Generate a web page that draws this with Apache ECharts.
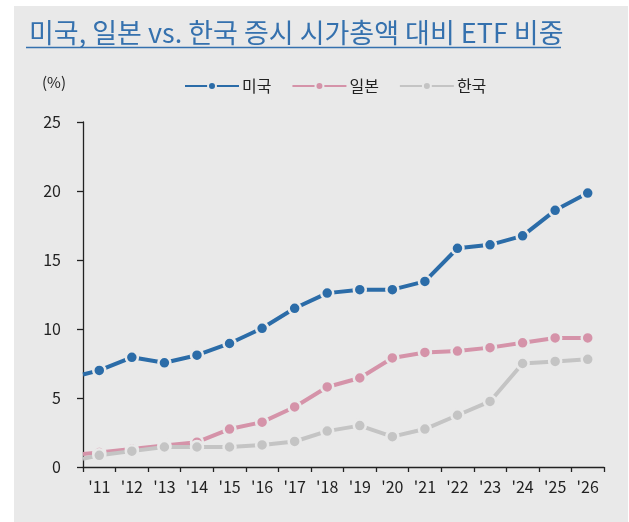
<!DOCTYPE html>
<html>
<head>
<meta charset="utf-8">
<script src="https://cdn.jsdelivr.net/npm/echarts@6/dist/echarts.min.js"></script>
<style>
  html, body { margin: 0; padding: 0; background: #ffffff; }
  #panel { position: absolute; left: 14px; top: 6px; width: 614px; height: 516px; background: #e9e9e9; }
  #chart { position: absolute; left: 0; top: 0; width: 629px; height: 522px; }
</style>
</head>
<body>
<div id="panel"></div>
<div id="chart"></div>
<script>
const categories = ["'11", "'12", "'13", "'14", "'15", "'16", "'17", "'18", "'19", "'20", "'21", "'22", "'23", "'24", "'25", "'26"];
const seriesNames = ['미국', '일본', '한국'];
const usValues = [7.0, 7.95, 7.55, 8.1, 8.95, 10.05, 11.5, 12.6, 12.85, 12.85, 13.45, 15.85, 16.1, 16.75, 18.6, 19.85];
const jpValues = [1.05, 1.3, 1.55, 1.8, 2.75, 3.25, 4.35, 5.8, 6.45, 7.9, 8.3, 8.4, 8.65, 9.0, 9.35, 9.35];
const krValues = [0.85, 1.15, 1.45, 1.45, 1.45, 1.6, 1.85, 2.6, 3.0, 2.2, 2.75, 3.75, 4.75, 7.5, 7.65, 7.8];
// value where each line meets the y axis (no marker there)
const startValues = [6.7, 0.95, 0.6];
const colors = ['#2b6ca8', '#d593a9', '#c4c4c4'];

const bg = '#e9e9e9';
const font = '"Noto Sans CJK KR", "Noto Sans", sans-serif';

const buildData = (start, vals) => [{ value: [0, start], symbol: 'none' }]
  .concat(vals.map((v, i) => [i + 0.5, v]));

const chart = echarts.init(document.getElementById('chart'));

const allValues = [usValues, jpValues, krValues];

const options = {
  backgroundColor: 'transparent',
  textStyle: { fontFamily: font },
  title: {
    text: '미국, 일본 vs. 한국 증시 시가총액 대비 ETF 비중',
    left: 24,
    top: 14,
    textStyle: { color: '#3571ae', fontSize: 27, fontWeight: 'normal', fontFamily: font }
  },
  graphic: [
    {
      type: 'line',
      shape: { x1: 26, y1: 47.5, x2: 561, y2: 47.5 },
      style: { stroke: '#3571ae', lineWidth: 1.5 }
    },
    {
      type: 'text',
      left: 42,
      top: 75,
      style: { text: '(%)', fill: '#222', font: '15px ' + font }
    }
  ],
  legend: {
    top: 73,
    left: 179,
    itemWidth: 54,
    itemHeight: 10,
    itemGap: 20,
    textStyle: { color: '#222', fontSize: 16, fontFamily: font, padding: [0, 0, 0, -2] },
    data: seriesNames
  },
  grid: { left: 83, right: 25, top: 122, bottom: 55, containLabel: false },
  xAxis: [
    {
      type: 'category',
      data: categories,
      boundaryGap: true,
      axisLine: { lineStyle: { color: '#222', width: 1.3 } },
      axisTick: { show: true, length: 5, lineStyle: { color: '#222', width: 1.3 } },
      axisLabel: { color: '#222', fontSize: 16, margin: 12, interval: 0, fontFamily: font },
      splitLine: { show: false }
    },
    { type: 'value', min: 0, max: 16, show: false }
  ],
  yAxis: {
    type: 'value',
    min: 0,
    max: 25,
    interval: 5,
    axisLine: { show: true, lineStyle: { color: '#222', width: 1.3 } },
    axisTick: { show: true, length: 6, lineStyle: { color: '#222', width: 1.3 } },
    axisLabel: { color: '#222', fontSize: 16, margin: 22, fontFamily: font },
    splitLine: { show: false }
  },
  series: seriesNames.map((name, i) => ({
    name: name,
    type: 'line',
    xAxisIndex: 1,
    data: buildData(startValues[i], allValues[i]),
    symbol: 'circle',
    symbolSize: 12,
    color: colors[i],
    lineStyle: { color: colors[i], width: 4 },
    itemStyle: { color: colors[i], borderColor: bg, borderWidth: 2.5 },
    emphasis: { disabled: true },
    animation: false
  }))
};

chart.setOption(options);
</script>
</body>
</html>
